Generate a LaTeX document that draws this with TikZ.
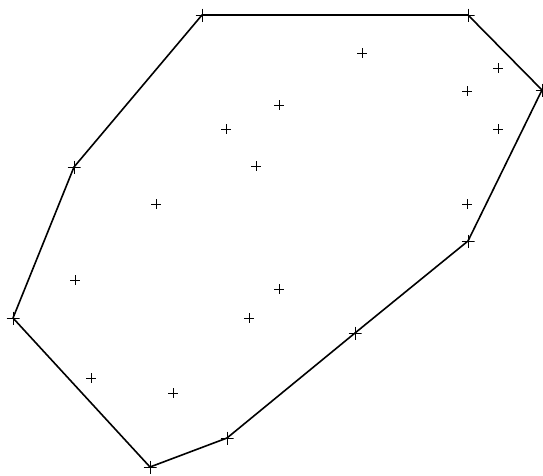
\documentclass[tikz,border=0pt]{standalone}
\usepackage{tikz}
\usetikzlibrary{positioning}

\tikzset{
  cross/.style={inner sep=0pt,minimum size=10pt,line width=0.7pt,
    path picture={\draw (path picture bounding box.north) -- (path picture bounding box.south)
      (path picture bounding box.west) -- (path picture bounding box.east);}},
  hullpt/.style={cross,minimum size=13pt,line width=0.9pt},
  hull/.style={line width=1.6pt,line join=round}
}

\begin{document}
\begin{tikzpicture}[x=1pt,y=-1pt]
  \useasboundingbox (0,0) rectangle (543,475);
  % points on the hull
  \node[hullpt] (h1) at (202,15) {};
  \node[hullpt] (h2) at (468,15) {};
  \node[hullpt] (h3) at (542,90) {};
  \node[hullpt] (h4) at (468,241) {};
  \node[hullpt] (h5) at (355,333) {};
  \node[hullpt] (h6) at (227,438) {};
  \node[hullpt] (h7) at (150,467) {};
  \node[hullpt] (h8) at (13,318) {};
  \node[hullpt] (h9) at (74,167) {};
  % points inside
  \foreach \name/\px/\py in {q1/362/53, q2/498/68, q3/467/91, q4/279/105, q5/226/129,
      q6/498/129, q7/256/166, q8/156/204, q9/467/204, q10/75/280, q11/279/289,
      q12/249/318, q13/91/378, q14/173/393}
    \node[cross] (\name) at (\px,\py) {};
  % the hull
  \draw[hull] (h1.center) -- (h2.center) -- (h3.center) -- (h4.center) -- (h5.center)
    -- (h6.center) -- (h7.center) -- (h8.center) -- (h9.center) -- cycle;
\end{tikzpicture}
\end{document}
